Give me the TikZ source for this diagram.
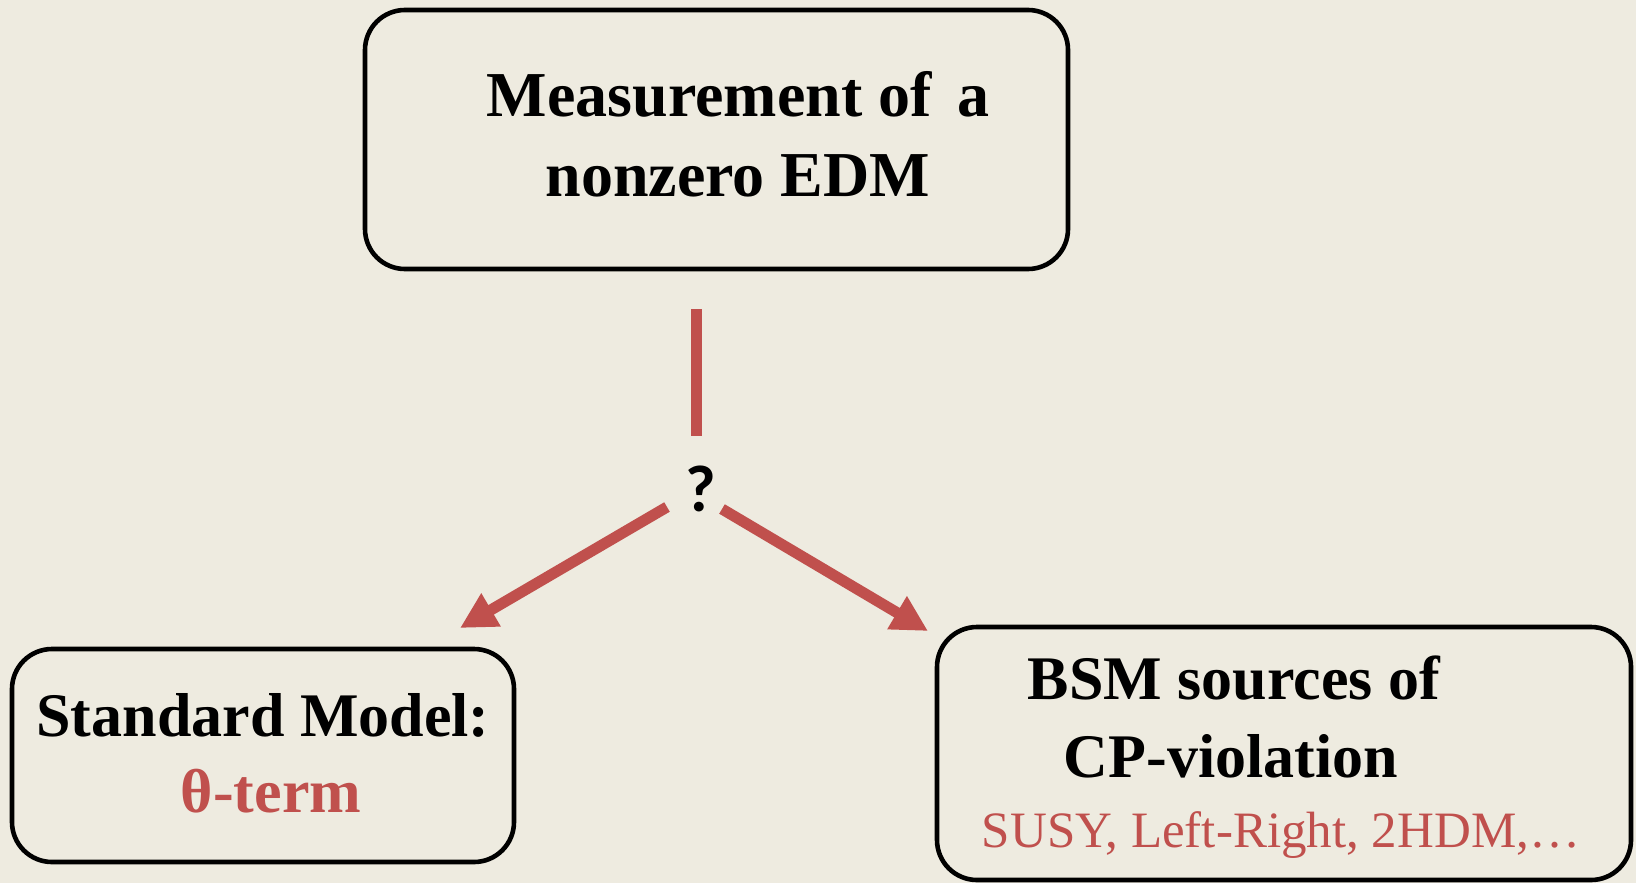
\documentclass[tikz,border=0pt]{standalone}
\usepackage{fontspec}
\setmainfont{Liberation Serif}
\newfontfamily\qfont{Carlito}
\usepackage{tikz}
\usetikzlibrary{shapes,arrows.meta,backgrounds,positioning}
\definecolor{paper}{HTML}{EEEBE0}
\definecolor{edmred}{HTML}{C0504D}
\tikzset{
  box_n/.style = {draw=black, line width=2.3pt, rounded corners=20pt,
    inner sep=0pt},% cadre noir
  txt_b/.style = {anchor=base, inner sep=0pt,
    font=\fontsize{31}{36}\selectfont\bfseries},% texte gras
  txt_r/.style = {anchor=base, inner sep=0pt, edmred,
    font=\fontsize{25.5}{30}\selectfont},% texte rouge
  link_r/.style = {draw=edmred, line width=5.5pt},% trait rouge
  arr_r/.style = {link_r, -{Triangle[length=18pt,width=18pt]}}% fleche rouge
}

\begin{document}
\begin{tikzpicture}[x=0.5pt,y=-0.5pt]
        \fill[paper] (0,0) rectangle (1636,883);
        \useasboundingbox (0,0) rectangle (1636,883);
        % les trois cadres
        \node [box_n, minimum width=351.5pt, minimum height=129.5pt] (edm) at (716.5,139.5) {};
        \node [box_n, minimum width=251pt, minimum height=106.5pt] (sm) at (263,755.5) {};
        \node [box_n, minimum width=347pt, minimum height=126.5pt] (bsm) at (1284,753.5) {};
        % textes
        \node [txt_b, font=\fontsize{32}{36}\selectfont\bfseries] (edm1) at (738,117) {Measurement of\hspace{0.4em}a};
        \node [txt_b, font=\fontsize{32}{36}\selectfont\bfseries] (edm2) at (738,196) {nonzero EDM};
        \node [txt_b] (sm1) at (263,736) {Standard Model:};
        \node [txt_b, edmred] (sm2) at (271,812) {θ-term};
        \node [txt_b] (bsm1) at (1234,699) {BSM sources of};
        \node [txt_b] (bsm2) at (1231,777) {CP-violation};
        \node [txt_r] (bsm3) at (1281,847) {SUSY, Left-Right, 2HDM,…};
        \node [font=\qfont\fontsize{33}{36}\selectfont\bfseries, inner sep=0pt] (q) at (701,489) {?};
        % traits
        \coordinate (lineTop) at (696,309);
        \coordinate (lineBot) at (696,436);
        \coordinate (armL) at (667,507);
        \coordinate (armR) at (722,509);
        \coordinate (tipL) at (460,628);
        \coordinate (tipR) at (928,631);
        \draw [link_r] (lineTop) -- (lineBot);
        \draw [arr_r] (armL) -- (tipL);
        \draw [arr_r] (armR) -- (tipR);
\end{tikzpicture}
\end{document}
